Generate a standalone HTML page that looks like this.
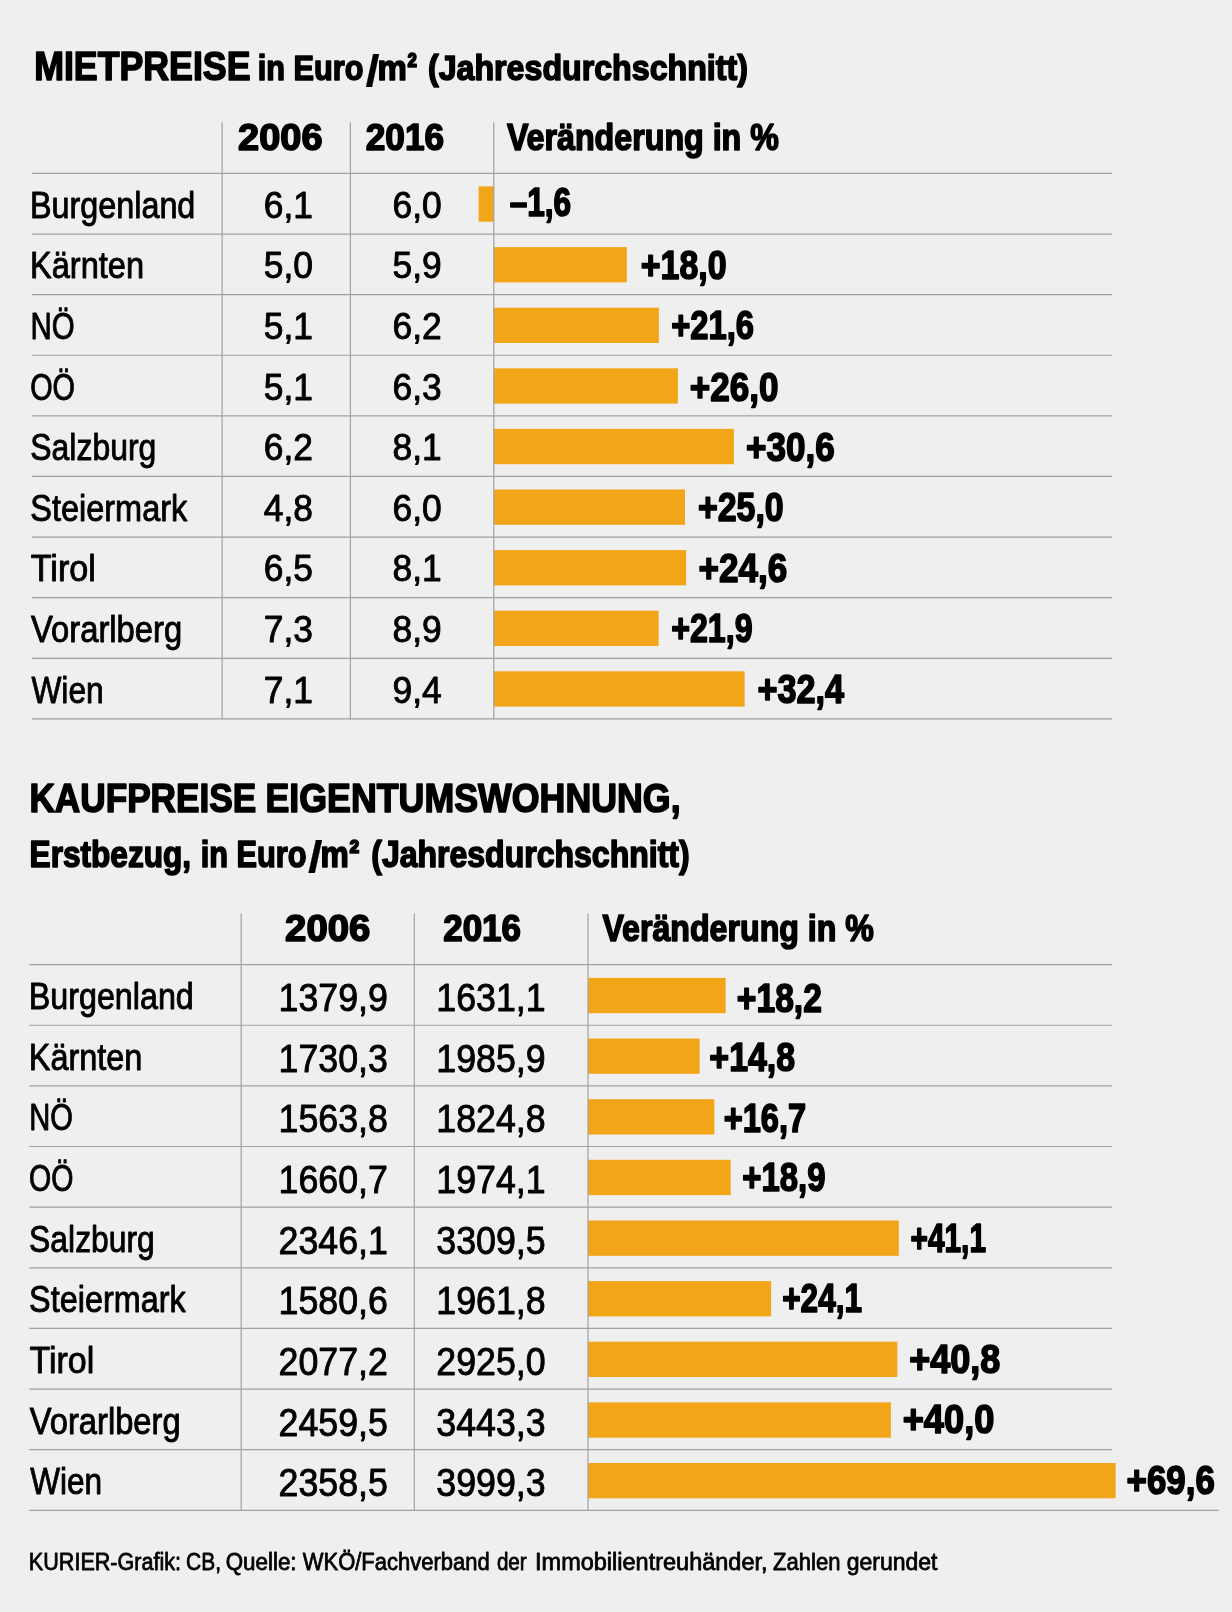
<!DOCTYPE html>
<html lang="de"><head><meta charset="utf-8"><title>Mietpreise und Kaufpreise</title>
<style>html,body{margin:0;padding:0;background:#efefef;}body{width:1232px;height:1612px;overflow:hidden;font-family:"Liberation Sans",sans-serif;}svg{display:block;will-change:transform}</style>
</head><body>
<svg width="1232" height="1612" viewBox="0 0 1232 1612">
<rect width="1232" height="1612" fill="#efefef"/>
<g fill="#f3a518">
<rect x="478.6" y="186.4" width="15.3" height="35.3"/>
<rect x="493.9" y="247.1" width="132.9" height="35.3"/>
<rect x="493.9" y="307.7" width="165.0" height="35.3"/>
<rect x="493.9" y="368.3" width="184.0" height="35.3"/>
<rect x="493.9" y="428.9" width="240.0" height="35.3"/>
<rect x="493.9" y="489.5" width="191.1" height="35.3"/>
<rect x="493.9" y="550.1" width="192.2" height="35.3"/>
<rect x="493.9" y="610.7" width="164.7" height="35.3"/>
<rect x="493.9" y="671.3" width="250.7" height="35.3"/>
<rect x="588" y="977.9" width="137.7" height="35.3"/>
<rect x="588" y="1038.5" width="111.6" height="35.3"/>
<rect x="588" y="1099.2" width="126.3" height="35.3"/>
<rect x="588" y="1159.8" width="142.7" height="35.3"/>
<rect x="588" y="1220.5" width="310.8" height="35.3"/>
<rect x="588" y="1281.1" width="183.1" height="35.3"/>
<rect x="588" y="1341.7" width="309.4" height="35.3"/>
<rect x="588" y="1402.4" width="302.9" height="35.3"/>
<rect x="588" y="1463.0" width="527.6" height="35.3"/>
</g>
<g stroke="#a3a19e" stroke-width="1.2" fill="none">
<line x1="32" y1="173.45" x2="1112" y2="173.45"/>
<line x1="32" y1="234.05" x2="1112" y2="234.05"/>
<line x1="32" y1="294.66" x2="1112" y2="294.66"/>
<line x1="32" y1="355.26" x2="1112" y2="355.26"/>
<line x1="32" y1="415.87" x2="1112" y2="415.87"/>
<line x1="32" y1="476.47" x2="1112" y2="476.47"/>
<line x1="32" y1="537.08" x2="1112" y2="537.08"/>
<line x1="32" y1="597.68" x2="1112" y2="597.68"/>
<line x1="32" y1="658.29" x2="1112" y2="658.29"/>
<line x1="32" y1="718.89" x2="1112" y2="718.89"/>
<line x1="222.1" y1="122.2" x2="222.1" y2="719.50"/>
<line x1="350.4" y1="122.2" x2="350.4" y2="719.50"/>
<line x1="493.8" y1="122.2" x2="493.8" y2="719.50"/>
<line x1="29.2" y1="964.60" x2="1112" y2="964.60"/>
<line x1="29.2" y1="1025.24" x2="1112" y2="1025.24"/>
<line x1="29.2" y1="1085.88" x2="1112" y2="1085.88"/>
<line x1="29.2" y1="1146.52" x2="1112" y2="1146.52"/>
<line x1="29.2" y1="1207.16" x2="1112" y2="1207.16"/>
<line x1="29.2" y1="1267.80" x2="1112" y2="1267.80"/>
<line x1="29.2" y1="1328.44" x2="1112" y2="1328.44"/>
<line x1="29.2" y1="1389.08" x2="1112" y2="1389.08"/>
<line x1="29.2" y1="1449.72" x2="1112" y2="1449.72"/>
<line x1="29.2" y1="1510.36" x2="1218.8" y2="1510.36"/>
<line x1="241.2" y1="913.4" x2="241.2" y2="1510.96"/>
<line x1="414.3" y1="913.4" x2="414.3" y2="1510.96"/>
<line x1="588.0" y1="913.4" x2="588.0" y2="1510.96"/>
</g>
<g font-family="'Liberation Sans', sans-serif" fill="#000" stroke="#000" stroke-linejoin="round">
<text transform="translate(34.16,80.40) scale(0.8846,1)" font-size="40.40" font-weight="bold" stroke-width="1.6">MIETPREISE</text>
<text transform="translate(257.75,80.30) scale(0.8621,1)" font-size="35.60" font-weight="bold" stroke-width="1.6">in Euro</text>
<text transform="translate(365.51,85.50) scale(1.1379,1)" font-size="44.50" font-weight="bold" stroke-width="0.2">/</text>
<text transform="translate(377.46,80.30) scale(0.9272,1)" font-size="35.60" font-weight="bold" stroke-width="1.6">m</text>
<text transform="translate(407.23,79.80) scale(0.7692,1)" font-size="38.00" font-weight="bold" stroke-width="1.6">²</text>
<text transform="translate(427.94,80.30) scale(0.9041,1)" font-size="35.60" font-weight="bold" stroke-width="1.6">(Jahresdurchschnitt)</text>
<text transform="translate(238.10,150.20) scale(1.0428,1)" font-size="36.40" font-weight="bold" stroke-width="1.6">2006</text>
<text transform="translate(365.72,150.20) scale(0.9680,1)" font-size="36.40" font-weight="bold" stroke-width="1.6">2016</text>
<text transform="translate(506.91,150.20) scale(0.8847,1)" font-size="36.40" font-weight="bold" stroke-width="1.6">Veränderung in %</text>
<text transform="translate(30.01,217.85) scale(0.8787,1)" font-size="36.80" stroke-width="0.9">Burgenland</text>
<text transform="translate(263.79,217.75) scale(0.9620,1)" font-size="36.80" stroke-width="0.9">6,1</text>
<text transform="translate(392.59,217.75) scale(0.9620,1)" font-size="36.80" stroke-width="0.9">6,0</text>
<text transform="translate(509.69,215.95) scale(0.7942,1)" font-size="39.80" font-weight="bold" stroke-width="1.6">–1,6</text>
<text transform="translate(29.99,278.45) scale(0.8848,1)" font-size="36.80" stroke-width="0.9">Kärnten</text>
<text transform="translate(263.79,278.35) scale(0.9620,1)" font-size="36.80" stroke-width="0.9">5,0</text>
<text transform="translate(392.59,278.35) scale(0.9620,1)" font-size="36.80" stroke-width="0.9">5,9</text>
<text transform="translate(640.73,279.35) scale(0.8522,1)" font-size="39.80" font-weight="bold" stroke-width="1.6">+18,0</text>
<text transform="translate(30.51,339.06) scale(0.7997,1)" font-size="36.80" stroke-width="0.9">NÖ</text>
<text transform="translate(263.79,338.96) scale(0.9620,1)" font-size="36.80" stroke-width="0.9">5,1</text>
<text transform="translate(392.59,338.96) scale(0.9620,1)" font-size="36.80" stroke-width="0.9">6,2</text>
<text transform="translate(671.15,339.46) scale(0.8240,1)" font-size="39.80" font-weight="bold" stroke-width="1.6">+21,6</text>
<text transform="translate(30.20,399.66) scale(0.7830,1)" font-size="36.80" stroke-width="0.9">OÖ</text>
<text transform="translate(263.79,399.56) scale(0.9620,1)" font-size="36.80" stroke-width="0.9">5,1</text>
<text transform="translate(392.59,399.56) scale(0.9620,1)" font-size="36.80" stroke-width="0.9">6,3</text>
<text transform="translate(689.70,400.66) scale(0.8814,1)" font-size="39.80" font-weight="bold" stroke-width="1.6">+26,0</text>
<text transform="translate(30.31,460.27) scale(0.8681,1)" font-size="36.80" stroke-width="0.9">Salzburg</text>
<text transform="translate(263.79,460.17) scale(0.9620,1)" font-size="36.80" stroke-width="0.9">6,2</text>
<text transform="translate(392.59,460.17) scale(0.9620,1)" font-size="36.80" stroke-width="0.9">8,1</text>
<text transform="translate(746.10,460.57) scale(0.8814,1)" font-size="39.80" font-weight="bold" stroke-width="1.6">+30,6</text>
<text transform="translate(30.30,520.88) scale(0.8824,1)" font-size="36.80" stroke-width="0.9">Steiermark</text>
<text transform="translate(263.79,520.77) scale(0.9620,1)" font-size="36.80" stroke-width="0.9">4,8</text>
<text transform="translate(392.59,520.77) scale(0.9620,1)" font-size="36.80" stroke-width="0.9">6,0</text>
<text transform="translate(697.93,521.47) scale(0.8522,1)" font-size="39.80" font-weight="bold" stroke-width="1.6">+25,0</text>
<text transform="translate(30.73,581.48) scale(0.9286,1)" font-size="36.80" stroke-width="0.9">Tirol</text>
<text transform="translate(263.79,581.38) scale(0.9620,1)" font-size="36.80" stroke-width="0.9">6,5</text>
<text transform="translate(392.59,581.38) scale(0.9620,1)" font-size="36.80" stroke-width="0.9">8,1</text>
<text transform="translate(698.60,582.08) scale(0.8814,1)" font-size="39.80" font-weight="bold" stroke-width="1.6">+24,6</text>
<text transform="translate(31.00,642.08) scale(0.8908,1)" font-size="36.80" stroke-width="0.9">Vorarlberg</text>
<text transform="translate(263.79,641.98) scale(0.9620,1)" font-size="36.80" stroke-width="0.9">7,3</text>
<text transform="translate(392.59,641.98) scale(0.9620,1)" font-size="36.80" stroke-width="0.9">8,9</text>
<text transform="translate(671.16,642.38) scale(0.8089,1)" font-size="39.80" font-weight="bold" stroke-width="1.6">+21,9</text>
<text transform="translate(31.39,702.69) scale(0.8624,1)" font-size="36.80" stroke-width="0.9">Wien</text>
<text transform="translate(263.79,702.59) scale(0.9620,1)" font-size="36.80" stroke-width="0.9">7,1</text>
<text transform="translate(392.59,702.59) scale(0.9620,1)" font-size="36.80" stroke-width="0.9">9,4</text>
<text transform="translate(757.52,703.39) scale(0.8605,1)" font-size="39.80" font-weight="bold" stroke-width="1.6">+32,4</text>
<text transform="translate(29.38,812.00) scale(0.8718,1)" font-size="40.40" font-weight="bold" stroke-width="1.6">KAUFPREISE</text>
<text transform="translate(265.46,812.00) scale(0.8853,1)" font-size="40.40" font-weight="bold" stroke-width="1.6">EIGENTUMSWOHNUNG,</text>
<text transform="translate(29.60,866.90) scale(0.8705,1)" font-size="36.30" font-weight="bold" stroke-width="1.6">Erstbezug,</text>
<text transform="translate(200.63,866.90) scale(0.8465,1)" font-size="36.30" font-weight="bold" stroke-width="1.6">in Euro</text>
<text transform="translate(307.92,871.70) scale(1.1789,1)" font-size="44.50" font-weight="bold" stroke-width="0.2">/</text>
<text transform="translate(320.49,866.90) scale(0.8765,1)" font-size="36.30" font-weight="bold" stroke-width="1.6">m</text>
<text transform="translate(349.27,865.30) scale(0.8367,1)" font-size="36.10" font-weight="bold" stroke-width="1.6">²</text>
<text transform="translate(371.22,866.90) scale(0.8823,1)" font-size="36.30" font-weight="bold" stroke-width="1.6">(Jahresdurchschnitt)</text>
<text transform="translate(285.09,941.30) scale(1.0528,1)" font-size="36.40" font-weight="bold" stroke-width="1.6">2006</text>
<text transform="translate(443.22,941.30) scale(0.9605,1)" font-size="36.40" font-weight="bold" stroke-width="1.6">2016</text>
<text transform="translate(602.41,941.30) scale(0.8837,1)" font-size="36.40" font-weight="bold" stroke-width="1.6">Veränderung in %</text>
<text transform="translate(28.81,1009.10) scale(0.8766,1)" font-size="36.80" stroke-width="0.9">Burgenland</text>
<text transform="translate(278.56,1011.20) scale(0.9190,1)" font-size="38.90" stroke-width="0.9">1379,9</text>
<text transform="translate(436.36,1011.20) scale(0.9190,1)" font-size="38.90" stroke-width="0.9">1631,1</text>
<text transform="translate(736.83,1011.80) scale(0.8451,1)" font-size="39.80" font-weight="bold" stroke-width="1.6">+18,2</text>
<text transform="translate(28.80,1069.74) scale(0.8816,1)" font-size="36.80" stroke-width="0.9">Kärnten</text>
<text transform="translate(278.56,1071.84) scale(0.9190,1)" font-size="38.90" stroke-width="0.9">1730,3</text>
<text transform="translate(436.36,1071.84) scale(0.9190,1)" font-size="38.90" stroke-width="0.9">1985,9</text>
<text transform="translate(709.32,1071.04) scale(0.8528,1)" font-size="39.80" font-weight="bold" stroke-width="1.6">+14,8</text>
<text transform="translate(29.33,1130.38) scale(0.7919,1)" font-size="36.80" stroke-width="0.9">NÖ</text>
<text transform="translate(278.56,1132.48) scale(0.9190,1)" font-size="38.90" stroke-width="0.9">1563,8</text>
<text transform="translate(436.36,1132.48) scale(0.9190,1)" font-size="38.90" stroke-width="0.9">1824,8</text>
<text transform="translate(723.65,1131.68) scale(0.8200,1)" font-size="39.80" font-weight="bold" stroke-width="1.6">+16,7</text>
<text transform="translate(29.01,1191.02) scale(0.7757,1)" font-size="36.80" stroke-width="0.9">OÖ</text>
<text transform="translate(278.56,1193.12) scale(0.9190,1)" font-size="38.90" stroke-width="0.9">1660,7</text>
<text transform="translate(436.36,1193.12) scale(0.9190,1)" font-size="38.90" stroke-width="0.9">1974,1</text>
<text transform="translate(742.25,1191.32) scale(0.8270,1)" font-size="39.80" font-weight="bold" stroke-width="1.6">+18,9</text>
<text transform="translate(29.12,1251.66) scale(0.8653,1)" font-size="36.80" stroke-width="0.9">Salzburg</text>
<text transform="translate(278.56,1253.76) scale(0.9190,1)" font-size="38.90" stroke-width="0.9">2346,1</text>
<text transform="translate(436.36,1253.76) scale(0.9190,1)" font-size="38.90" stroke-width="0.9">3309,5</text>
<text transform="translate(910.61,1251.51) scale(0.7485,1)" font-size="39.80" font-weight="bold" stroke-width="1.6">+41,1</text>
<text transform="translate(29.10,1312.30) scale(0.8801,1)" font-size="36.80" stroke-width="0.9">Steiermark</text>
<text transform="translate(278.56,1314.40) scale(0.9190,1)" font-size="38.90" stroke-width="0.9">1580,6</text>
<text transform="translate(436.36,1314.40) scale(0.9190,1)" font-size="38.90" stroke-width="0.9">1961,8</text>
<text transform="translate(782.17,1311.70) scale(0.7926,1)" font-size="39.80" font-weight="bold" stroke-width="1.6">+24,1</text>
<text transform="translate(29.54,1372.94) scale(0.9227,1)" font-size="36.80" stroke-width="0.9">Tirol</text>
<text transform="translate(278.56,1375.04) scale(0.9190,1)" font-size="38.90" stroke-width="0.9">2077,2</text>
<text transform="translate(436.36,1375.04) scale(0.9190,1)" font-size="38.90" stroke-width="0.9">2925,0</text>
<text transform="translate(909.18,1372.64) scale(0.9060,1)" font-size="39.80" font-weight="bold" stroke-width="1.6">+40,8</text>
<text transform="translate(29.80,1433.58) scale(0.8884,1)" font-size="36.80" stroke-width="0.9">Vorarlberg</text>
<text transform="translate(278.56,1435.68) scale(0.9190,1)" font-size="38.90" stroke-width="0.9">2459,5</text>
<text transform="translate(436.36,1435.68) scale(0.9190,1)" font-size="38.90" stroke-width="0.9">3443,3</text>
<text transform="translate(902.68,1433.48) scale(0.9106,1)" font-size="39.80" font-weight="bold" stroke-width="1.6">+40,0</text>
<text transform="translate(30.19,1494.22) scale(0.8576,1)" font-size="36.80" stroke-width="0.9">Wien</text>
<text transform="translate(278.56,1496.32) scale(0.9190,1)" font-size="38.90" stroke-width="0.9">2358,5</text>
<text transform="translate(436.36,1496.32) scale(0.9190,1)" font-size="38.90" stroke-width="0.9">3999,3</text>
<text transform="translate(1126.61,1493.52) scale(0.8764,1)" font-size="39.80" font-weight="bold" stroke-width="1.6">+69,6</text>
<text transform="translate(28.83,1569.50) scale(0.8811,1)" font-size="24.50" stroke-width="0.8">KURIER-Grafik:</text>
<text transform="translate(186.09,1569.50) scale(0.8546,1)" font-size="24.50" stroke-width="0.8">CB,</text>
<text transform="translate(225.67,1569.50) scale(0.9137,1)" font-size="24.50" stroke-width="0.8">Quelle:</text>
<text transform="translate(302.76,1569.50) scale(0.8972,1)" font-size="24.50" stroke-width="0.8">WKÖ/Fachverband</text>
<text transform="translate(496.91,1569.50) scale(0.8421,1)" font-size="24.50" stroke-width="0.8">der</text>
<text transform="translate(535.07,1569.50) scale(0.9591,1)" font-size="24.50" stroke-width="0.8">Immobilientreuhänder,</text>
<text transform="translate(773.10,1569.50) scale(0.8994,1)" font-size="24.50" stroke-width="0.8">Zahlen</text>
<text transform="translate(846.76,1569.50) scale(0.9380,1)" font-size="24.50" stroke-width="0.8">gerundet</text>
</g></svg>
</body></html>
